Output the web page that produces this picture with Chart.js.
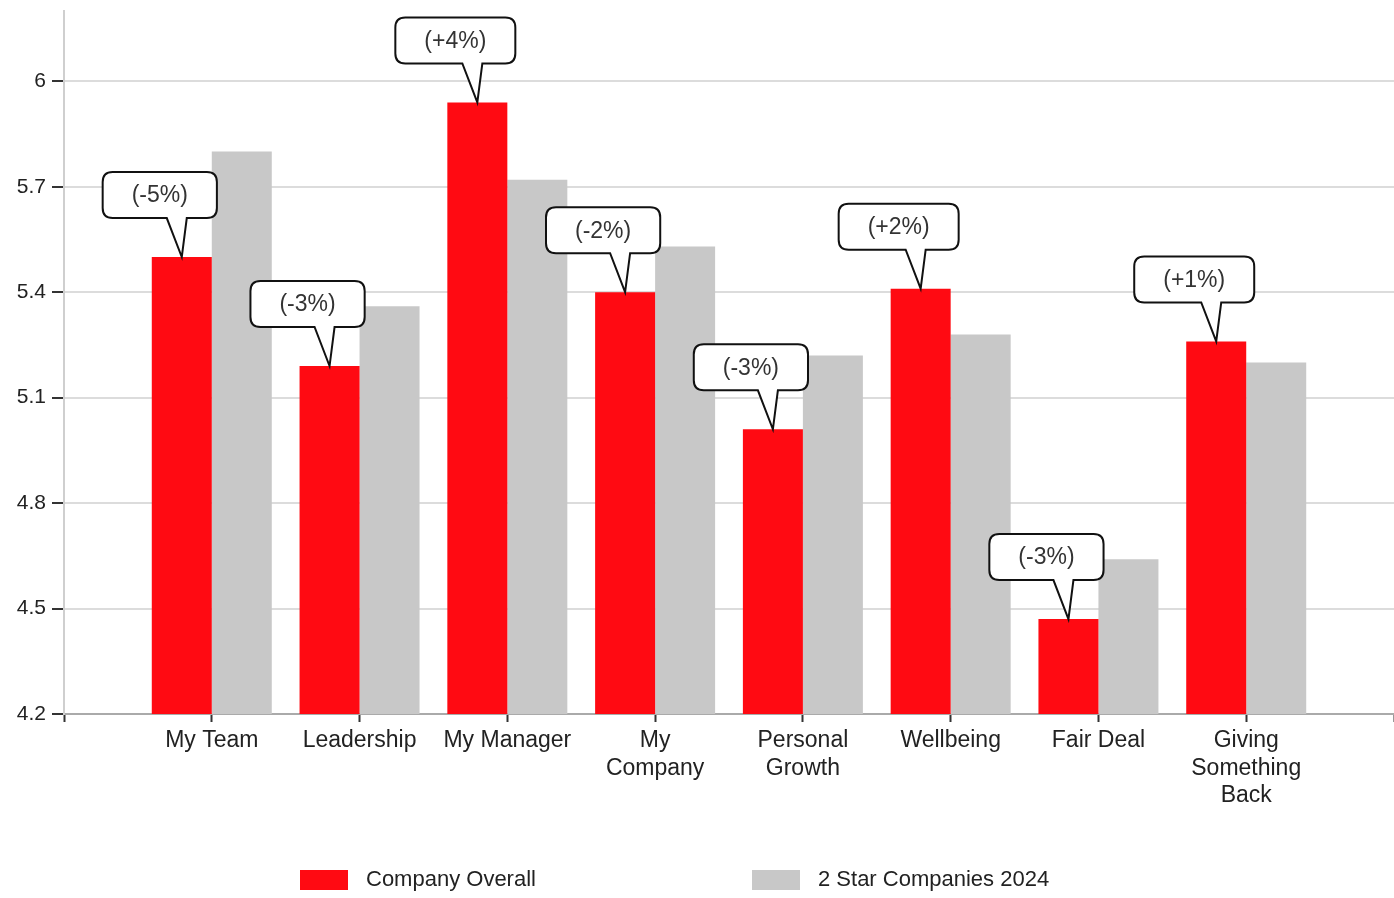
<!DOCTYPE html>
<html>
<head>
<meta charset="utf-8">
<title>Company Overall vs 2 Star Companies 2024</title>
<script src="https://cdn.jsdelivr.net/npm/chart.js@4.4.1/dist/chart.umd.min.js"></script>
<style>
  html, body { margin: 0; padding: 0; background: #fff; }
  #wrap { width: 1394px; height: 898px; }
</style>
</head>
<body>
<div id="wrap"><canvas id="surveyChart"></canvas></div>
<script>
// survey factor scores
var categories = [
  ['My Team'], ['Leadership'], ['My Manager'], ['My', 'Company'],
  ['Personal', 'Growth'], ['Wellbeing'], ['Fair Deal'], ['Giving', 'Something', 'Back']
];
var companyOverall = [5.5, 5.19, 5.94, 5.4, 5.01, 5.41, 4.47, 5.26];
var twoStar2024 = [5.8, 5.36, 5.72, 5.53, 5.22, 5.28, 4.64, 5.2];
var changeLabels = ['(-5%)', '(-3%)', '(+4%)', '(-2%)', '(-3%)', '(+2%)', '(-3%)', '(+1%)'];
var yTicks = [4.2, 4.5, 4.8, 5.1, 5.4, 5.7, 6];

var FONT = '"Liberation Sans", Arial, sans-serif';

// pad the category axis with an empty slot at each end
var labels = [''].concat(categories, ['']);
function padded(arr) { return [null].concat(arr, [null]); }

// speech bubble over each red bar
var calloutPlugin = {
  id: 'callouts',
  afterDatasetsDraw: function(chart) {
    var ctx = chart.ctx;
    var meta = chart.getDatasetMeta(0);
    ctx.save();
    ctx.font = '23px ' + FONT;
    ctx.textAlign = 'center';
    ctx.textBaseline = 'middle';
    meta.data.forEach(function(bar, i) {
      var txt = changeLabels[i - 1];
      if (!txt) return;
      var cx = bar.x, tip = bar.y;
      var w = ctx.measureText(txt).width + 58, h = 46, r = 10;
      var bottom = tip - 39, top = bottom - h;
      var left = cx - 22 - w / 2, right = left + w;
      ctx.beginPath();
      ctx.moveTo(left + r, top);
      ctx.lineTo(right - r, top);
      ctx.quadraticCurveTo(right, top, right, top + r);
      ctx.lineTo(right, bottom - r);
      ctx.quadraticCurveTo(right, bottom, right - r, bottom);
      ctx.lineTo(cx + 5, bottom);
      ctx.lineTo(cx, tip);
      ctx.lineTo(cx - 15, bottom);
      ctx.lineTo(left + r, bottom);
      ctx.quadraticCurveTo(left, bottom, left, bottom - r);
      ctx.lineTo(left, top + r);
      ctx.quadraticCurveTo(left, top, left + r, top);
      ctx.closePath();
      ctx.fillStyle = '#fff';
      ctx.fill();
      ctx.lineWidth = 2;
      ctx.strokeStyle = '#111';
      ctx.stroke();
      ctx.fillStyle = '#333';
      ctx.fillText(txt, left + w / 2, top + h / 2 + 1);
    });
    ctx.restore();
  }
};

// legend row along the bottom
var legendPlugin = {
  id: 'bottomLegend',
  afterDraw: function(chart) {
    var ctx = chart.ctx;
    var starts = [300, 752];
    var y = 880;
    ctx.save();
    ctx.font = '22px ' + FONT;
    ctx.textBaseline = 'middle';
    ctx.textAlign = 'left';
    chart.data.datasets.forEach(function(ds, i) {
      var x = starts[i];
      ctx.fillStyle = ds.backgroundColor;
      ctx.fillRect(x, y - 10, 48, 20);
      ctx.fillStyle = '#222';
      ctx.fillText(ds.label, x + 66, y);
    });
    ctx.restore();
  }
};

var ctx = document.getElementById('surveyChart');

var surveyChart = new Chart(ctx, {
  type: 'bar',
  data: {
    labels: labels,
    datasets: [
      {
        label: 'Company Overall',
        data: padded(companyOverall),
        backgroundColor: '#ff0a12'
      },
      {
        label: '2 Star Companies 2024',
        data: padded(twoStar2024),
        backgroundColor: '#c8c8c8'
      }
    ]
  },
  options: {
    responsive: true,
    maintainAspectRatio: false,
    animation: false,
    categoryPercentage: 0.812,
    barPercentage: 1,
    layout: { padding: { top: 11, right: -2, bottom: 0, left: 0 } },
    plugins: {
      legend: { display: false },
      tooltip: { enabled: false }
    },
    scales: {
      x: {
        offset: false,
        grid: {
          offset: false,
          drawOnChartArea: false,
          drawTicks: true,
          tickLength: 8,
          tickColor: '#333',
          tickWidth: 2
        },
        border: { color: '#aaa', width: 2 },
        ticks: {
          autoSkip: false,
          maxRotation: 0,
          padding: 5,
          color: '#222',
          font: { family: FONT, size: 23, lineHeight: 1.2 }
        },
        afterFit: function(scale) {
          scale.height = 184;
          scale.paddingLeft = 0;
          scale.paddingRight = 0;
        }
      },
      y: {
        min: 4.2,
        max: 6.2,
        afterBuildTicks: function(scale) {
          scale.ticks = yTicks.map(function(v) { return { value: v }; });
        },
        grid: {
          color: '#dcdcdc',
          lineWidth: 2,
          tickLength: 12,
          tickColor: '#333',
          tickWidth: 2
        },
        border: { color: '#cfcfcf', width: 2 },
        ticks: {
          padding: 6,
          color: '#222',
          font: { family: FONT, size: 21 },
          callback: function(value) { return String(value); }
        },
        afterFit: function(scale) {
          scale.width = 64;
          scale.paddingTop = 0;
          scale.paddingBottom = 0;
        }
      }
    }
  },
  plugins: [calloutPlugin, legendPlugin]
});
</script>
</body>
</html>
